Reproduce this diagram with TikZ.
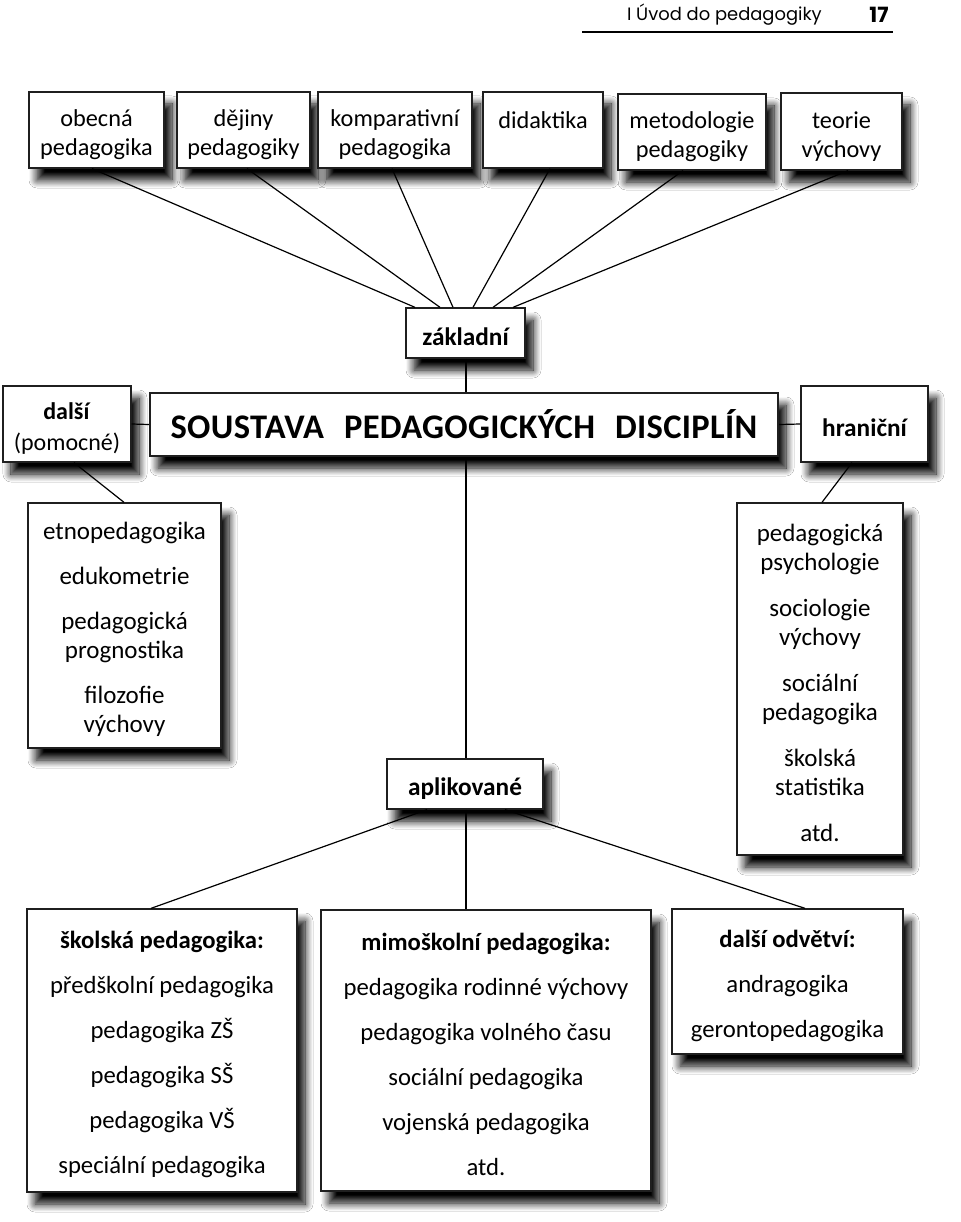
\documentclass[tikz,border=0pt]{standalone}
\usepackage{fontspec}
\setmainfont{Carlito}
\newfontfamily\hdrfont{Poppins}
\usetikzlibrary{shadows.blur}
\newcommand\tst{\rule{0pt}{26pt}}

\tikzset{
  box/.style={draw=black!88, line width=1.3pt, fill=white, align=center, inner sep=0pt,
    blur shadow={shadow xshift=8pt, shadow yshift=-12pt, shadow blur radius=8pt, shadow opacity=100, shadow blur steps=10}},
  topbox/.style={box, minimum height=76pt, font=\fontsize{24.3}{29}\selectfont},
  listbox/.style={box, font=\fontsize{25}{29}\selectfont},
  bigbox/.style={box, font=\fontsize{24.7}{45}\selectfont},
  labelbox/.style={box, font=\fontsize{24}{31}\selectfont},
  boldbox/.style={box, font=\bfseries\fontsize{25.3}{31}\selectfont},
  link/.style={draw=black, line width=1.2pt},
}

\begin{document}
\begin{tikzpicture}[x=1pt, y=-1pt]
\useasboundingbox[fill=white] (0,0) rectangle (960,1222);

% header
\node[font=\hdrfont\fontsize{17.9}{20}\selectfont, anchor=east, inner sep=0pt] (hdr) at (822,15) {I Úvod do pedagogiky};
\node[font=\hdrfont\bfseries\fontsize{21}{24}\selectfont, inner sep=0pt] (pg) at (879,15) {17};
\draw[line width=1.4pt] (582,32) -- (893,32);

% top row
\node[topbox, minimum width=135pt] (obecna) at (96.5,130) {\tst obecná\\pedagogika};
\node[topbox, minimum width=133pt] (dejiny) at (243.5,130) {\tst dějiny\\pedagogiky};
\node[topbox, minimum width=154pt] (kompar) at (395,130) {\tst komparativní\\pedagogika};
\node[topbox, minimum width=120pt] (didak) at (543,130) {\tst didaktika\\\mbox{}};
\node[topbox, minimum width=148pt] (metod) at (692,132) {\tst metodologie\\pedagogiky};
\node[topbox, minimum width=121pt, minimum height=77pt] (teorie) at (841.5,131.5) {\tst teorie\\výchovy};

% middle
\node[boldbox, minimum width=119pt, minimum height=50pt] (zakl) at (465.5,333) {\tst základní};
\node[box, line width=2.4pt, minimum width=628pt, minimum height=63pt,
      font=\bfseries\fontsize{34.5}{40}\selectfont\addfontfeature{LetterSpace=1}] (sous) at (464,424.5)
      {\rule{0pt}{27pt}SOUSTAVA\hspace{20pt}PEDAGOGICKÝCH\hspace{20pt}DISCIPLÍN};
\node[labelbox, minimum width=128pt, minimum height=76pt] (dalsi) at (67,424) {\tst\textbf{další}\\(pomocné)};
\node[boldbox, minimum width=127pt, minimum height=76pt] (hran) at (864.5,424) {\tst hraniční};

% side lists
\node[listbox, minimum width=193pt, minimum height=245pt] (leftlist) at (124.5,625.5)
  {\tst etnopedagogika\\[16pt]edukometrie\\[16pt]pedagogická\\prognostika\\[16pt]filozofie\\výchovy};
\node[listbox, minimum width=166pt, minimum height=352pt] (rightlist) at (820,679)
  {\tst pedagogická\\psychologie\\[17pt]sociologie\\výchovy\\[17pt]sociální\\pedagogika\\[17pt]školská\\statistika\\[17pt]atd.};

\node[boldbox, minimum width=156pt, minimum height=50pt] (aplik) at (465,784) {\tst aplikované};

% bottom row
\node[bigbox, minimum width=270pt, minimum height=283pt] (skol) at (162,1050.5)
  {\tst\textbf{školská pedagogika:}\\předškolní pedagogika\\pedagogika ZŠ\\pedagogika SŠ\\pedagogika VŠ\\speciální pedagogika};
\node[bigbox, minimum width=330pt, minimum height=281pt] (mimo) at (486,1050.5)
  {\tst\textbf{mimoškolní pedagogika:}\\pedagogika rodinné výchovy\\pedagogika volného času\\sociální pedagogika\\vojenská pedagogika\\atd.};
\node[bigbox, minimum width=231pt, minimum height=145pt] (odv) at (787.5,981.5)
  {\tst\textbf{další odvětví:}\\andragogika\\gerontopedagogika};

% connectors
\draw[link] ([xshift=-4.5pt]obecna.south) -- ([xshift=-50.5pt]zakl.north);
\draw[link] ([xshift=3.5pt]dejiny.south) -- ([xshift=-25.5pt]zakl.north);
\draw[link] ([xshift=-3pt]kompar.south) -- ([xshift=-12.5pt]zakl.north);
\draw[link] ([xshift=7pt]didak.south) -- ([xshift=7.5pt]zakl.north);
\draw[link] ([xshift=-9pt]metod.south) -- ([xshift=27.5pt]zakl.north);
\draw[link] ([xshift=6.5pt]teorie.south) -- ([xshift=47.5pt]zakl.north);

\draw[link] ([xshift=0.5pt]zakl.south) -- ([xshift=2pt]sous.north);
\draw[link] (dalsi.east) -- (sous.west);
\draw[link] (sous.east) -- (hran.west);
\draw[link] ([xshift=7pt]dalsi.south) -- ([xshift=-0.5pt]leftlist.north);
\draw[link] ([xshift=-12.5pt]hran.south) -- ([xshift=2pt]rightlist.north);
\draw[link] ([xshift=2pt]sous.south) -- ([xshift=1pt]aplik.north);

\draw[link] ([xshift=-38pt]aplik.south) -- ([xshift=-11pt]skol.north);
\draw[link] ([xshift=1pt]aplik.south) -- ([xshift=-20pt]mimo.north);
\draw[link] ([xshift=40pt]aplik.south) -- ([xshift=17.5pt]odv.north);
\end{tikzpicture}
\end{document}
